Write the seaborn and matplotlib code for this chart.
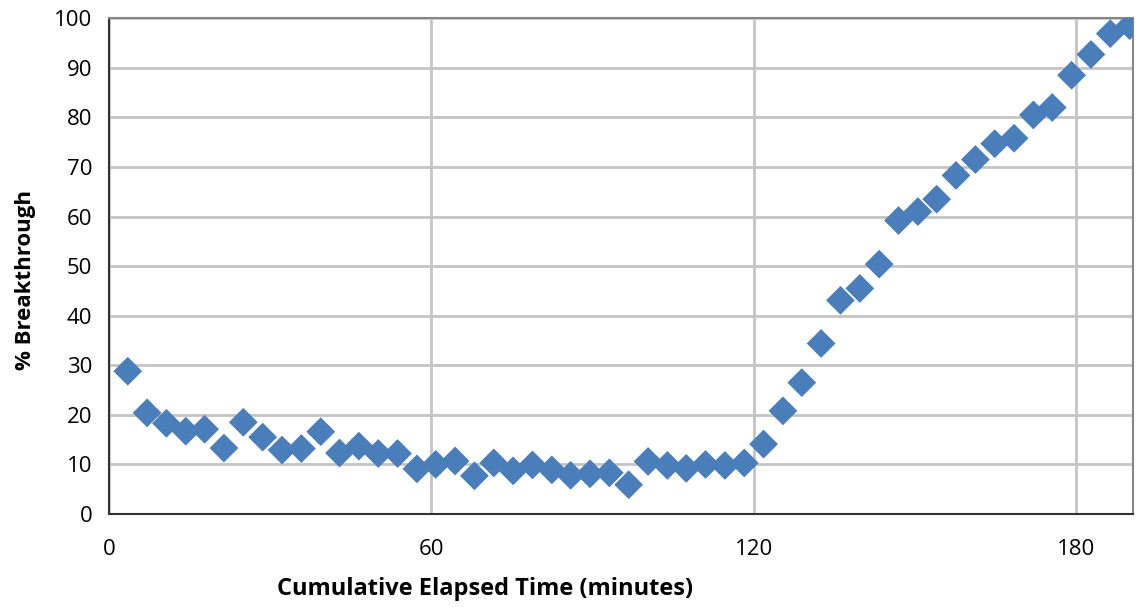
import matplotlib
matplotlib.use("Agg")
import matplotlib.pyplot as plt
import seaborn as sns
import pandas as pd

# elapsed time (minutes) and % breakthrough
time_min = [3.5, 7.1, 10.7, 14.3, 17.8, 21.4, 25.0, 28.6, 32.2, 35.8,
            39.4, 42.9, 46.5, 50.1, 53.7, 57.3, 60.8, 64.4, 68.0, 71.6,
            75.2, 78.8, 82.4, 85.9, 89.5, 93.1, 96.7, 100.3, 103.9, 107.4,
            111.0, 114.6, 118.2, 121.8, 125.4, 128.9, 132.5, 136.1, 139.7, 143.3,
            146.9, 150.5, 154.0, 157.6, 161.2, 164.8, 168.4, 172.0, 175.5, 179.1,
            182.7, 186.3, 189.9]
breakthrough = [28.8, 20.4, 18.3, 16.7, 17.1, 13.3, 18.5, 15.5, 12.9, 13.2,
                16.6, 12.3, 13.7, 12.2, 12.2, 9.1, 10.0, 10.7, 7.7, 10.3,
                8.7, 9.9, 8.9, 7.8, 8.1, 8.3, 5.9, 10.6, 9.8, 9.2,
                10.0, 9.8, 10.3, 14.1, 20.8, 26.5, 34.4, 43.1, 45.5, 50.4,
                59.2, 61.0, 63.5, 68.3, 71.5, 74.7, 75.8, 80.5, 82.0, 88.5,
                92.7, 96.9, 98.5]

df = pd.DataFrame({'time': time_min, 'pct': breakthrough})

sns.set_style("white")
plt.rcParams['font.family'] = ['Open Sans', 'DejaVu Sans']
plt.rcParams['text.color'] = 'black'
plt.rcParams['axes.labelcolor'] = 'black'
plt.rcParams['xtick.color'] = 'black'
plt.rcParams['ytick.color'] = 'black'

fig = plt.figure(figsize=(11.42, 6.09), dpi=100)
ax = fig.add_axes([0.0954, 0.156, 0.8966, 0.814])

sns.scatterplot(data=df, x='time', y='pct', marker='D', s=215,
                color='#4a7ebb', edgecolor='none', ax=ax, zorder=3)

ax.set_xlim(0, 190.5)
ax.set_ylim(0, 100)
ax.set_xticks([0, 60, 120, 180])
ax.set_yticks(range(0, 101, 10))
ax.grid(True, color='#c4c4c4', linewidth=2)
ax.set_axisbelow(True)

for side in ['top', 'right']:
    ax.spines[side].set_color('#888888')
    ax.spines[side].set_linewidth(1.5)
for side in ['left', 'bottom']:
    ax.spines[side].set_color('#333333')
    ax.spines[side].set_linewidth(1.5)

ax.tick_params(axis='y', direction='out', length=7, width=1.2, color='#333333',
               labelsize=16, pad=5, labelcolor='black')
ax.tick_params(axis='x', direction='inout', length=12, width=1.2, color='#333333',
               labelsize=16, pad=12, labelcolor='black')

ax.set_xlabel('Cumulative Elapsed Time (minutes)', fontsize=17, fontweight='bold')
ax.set_ylabel('% Breakthrough', fontsize=16, fontweight='bold')
# labels sit off-centre in the original
ax.xaxis.set_label_coords(0.367, -0.128)
ax.yaxis.set_label_coords(-0.071, 0.472)

fig.savefig('out.png', dpi=100)
